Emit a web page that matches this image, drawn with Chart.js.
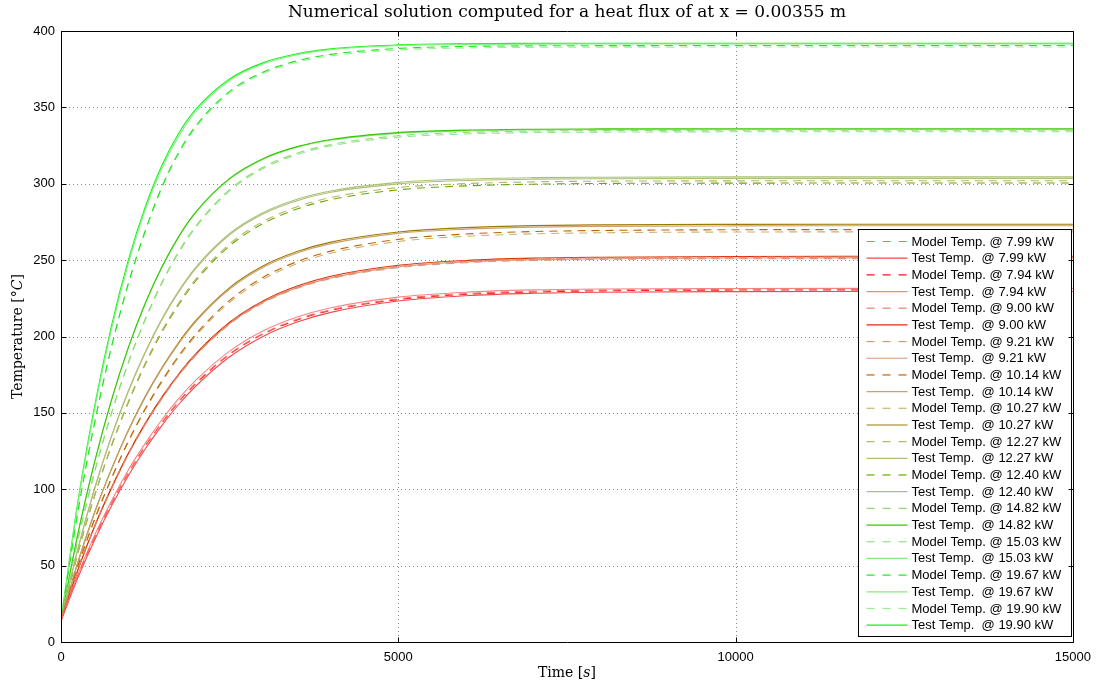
<!DOCTYPE html>
<html>
<head>
<meta charset="utf-8">
<script src="https://cdn.jsdelivr.net/npm/chart.js@4.4.0/dist/chart.umd.min.js"></script>
<style>
  html, body { margin: 0; padding: 0; background: #fff; }
</style>
</head>
<body>
<canvas id="heat" width="1099" height="684"></canvas>
<script>
// time samples [s]
var times = [0, 250, 500, 750, 1000, 1250, 1500, 1750, 2000, 2500, 3000, 3500, 4000, 5000, 6000, 7000, 8000, 10000, 12500, 15000];

// temperatures [degC]
var model_7_99  = [14, 43.1, 68.6, 90.9, 110.9, 128.4, 144, 157.8, 169.6, 188.7, 202.1, 211.3, 217.5, 224.7, 228.1, 229.6, 230.4, 230.9, 231, 231];
var test_7_99   = [14, 42, 67, 89.2, 109, 126.5, 142, 155.8, 167.6, 186.7, 200.2, 209.5, 215.8, 223.2, 226.7, 228.3, 229, 229.4, 229.5, 229.5];
var model_7_94  = [14, 43.1, 68.4, 90.7, 110.7, 128.2, 143.7, 157.5, 169.2, 188.3, 201.7, 210.8, 217.1, 224.2, 227.6, 229.1, 229.9, 230.4, 230.5, 230.5];
var test_7_94   = [14, 44, 70, 92.5, 112.8, 130.2, 145.8, 159.6, 171.4, 190.4, 203.7, 212.7, 218.8, 225.8, 229, 230.5, 231.1, 231.4, 231.5, 231.5];
var model_9_00  = [14, 47.1, 75.9, 100.9, 123.4, 143.1, 160.3, 175.5, 188.4, 208.9, 223, 232.5, 238.9, 246.1, 249.3, 250.8, 251.5, 251.9, 252, 252];
var test_9_00   = [14, 47.2, 76, 101.1, 123.7, 143.3, 160.6, 175.8, 188.8, 209.3, 223.4, 233, 239.4, 246.6, 249.8, 251.3, 251.9, 252.4, 252.5, 252.5];
var model_9_21  = [14, 47, 75.6, 100.5, 123, 142.5, 159.6, 174.8, 187.7, 208.1, 222.1, 231.6, 237.9, 245.1, 248.3, 249.8, 250.5, 250.9, 251, 251];
var test_9_21   = [14, 47, 75.8, 100.7, 123.2, 142.8, 159.9, 175.1, 188.1, 208.5, 222.6, 232, 238.4, 245.6, 248.8, 250.3, 250.9, 251.4, 251.5, 251.5];
var model_10_14 = [14, 49.6, 80.6, 107.5, 131.7, 152.8, 171.3, 187.7, 201.6, 223.7, 238.8, 249, 255.9, 263.6, 267.1, 268.7, 269.4, 269.9, 270, 270];
var test_10_14  = [14, 52, 84.8, 113.2, 138.4, 160.3, 179.3, 195.7, 209.8, 231.1, 245.4, 254.7, 260.8, 267.5, 270.3, 271.6, 272.1, 272.4, 272.5, 272.5];
var model_10_27 = [14, 49.4, 80.2, 106.9, 131, 152, 170.4, 186.7, 200.5, 222.4, 237.5, 247.7, 254.5, 262.2, 265.6, 267.2, 267.9, 268.4, 268.5, 268.5];
var test_10_27  = [14, 52.2, 85.1, 113.5, 138.8, 160.9, 179.9, 196.4, 210.5, 232, 246.3, 255.6, 261.8, 268.4, 271.3, 272.6, 273.1, 273.4, 273.5, 273.5];
var model_12_27 = [14, 58.4, 96.3, 129.1, 157.7, 182.7, 204.1, 222.2, 237.7, 260.6, 275.4, 284.9, 291, 297.5, 300.1, 301.2, 301.7, 301.9, 302, 302];
var test_12_27  = [14, 60.8, 100.5, 134.6, 164.1, 189.5, 211.3, 229.5, 244.6, 266.5, 280.3, 288.9, 294.4, 299.9, 302.1, 303, 303.3, 303.5, 303.5, 303.5];
var model_12_40 = [14, 58.1, 95.9, 128.5, 156.9, 181.8, 203.1, 221.1, 236.5, 259.3, 274, 283.5, 289.6, 296, 298.6, 299.7, 300.2, 300.4, 300.5, 300.5];
var test_12_40  = [14, 60.9, 100.8, 135.1, 164.6, 190.1, 212, 230.2, 245.4, 267.4, 281.2, 289.9, 295.3, 300.9, 303.1, 304, 304.3, 304.5, 304.5, 304.5];
var model_14_82 = [14, 67, 111.8, 150.2, 183.3, 211.6, 235.8, 256, 272.4, 296.2, 310.9, 320, 325.7, 331.4, 333.6, 334.5, 334.8, 335, 335, 335];
var test_14_82  = [14, 70.8, 118.3, 158.7, 193, 221.9, 246, 265.9, 281.6, 303.5, 316.6, 324.3, 329, 333.5, 335.1, 335.7, 335.9, 336, 336, 336];
var model_15_03 = [14, 66.8, 111.5, 149.8, 182.7, 211, 235.1, 255.2, 271.6, 295.3, 310, 319.1, 324.8, 330.4, 332.6, 333.5, 333.8, 334, 334, 334];
var test_15_03  = [14, 70.7, 118.1, 158.5, 192.7, 221.6, 245.6, 265.5, 281.2, 303, 316.1, 323.9, 328.5, 333, 334.6, 335.2, 335.4, 335.5, 335.5, 335.5];
var model_19_67 = [14, 85.3, 144, 193.6, 235, 269.4, 298.5, 321, 338, 360.5, 373.2, 380.5, 384.7, 388.6, 389.9, 390.3, 390.4, 390.5, 390.5, 390.5];
var test_19_67  = [14, 90.5, 152.8, 205, 248, 283, 310.5, 331.5, 347.3, 367.5, 378.5, 384.5, 387.8, 390.4, 391.2, 391.4, 391.5, 391.5, 391.5, 391.5];
var model_19_90 = [14, 85.1, 143.7, 193.1, 234.5, 268.7, 297.6, 320.1, 337, 359.5, 372.3, 379.6, 383.7, 387.6, 388.9, 389.3, 389.4, 389.5, 389.5, 389.5];
var test_19_90  = [14, 91.9, 155, 207.3, 250.3, 285, 312.5, 333.4, 348.8, 368.6, 379.3, 385.1, 388.3, 390.9, 391.7, 391.9, 392, 392, 392, 392];

var xTicks = [0, 5000, 10000, 15000];
var yTicks = [0, 50, 100, 150, 200, 250, 300, 350, 400];

var series = [
	['Model Temp. @ 7.99 kW',  model_7_99,  '#f87070', true],
	['Test Temp.  @ 7.99 kW',  test_7_99,   '#f84848', false],
	['Model Temp. @ 7.94 kW',  model_7_94,  '#ff1010', true],
	['Test Temp.  @ 7.94 kW',  test_7_94,   '#f88484', false],
	['Model Temp. @ 9.00 kW',  model_9_00,  '#e8806a', true],
	['Test Temp.  @ 9.00 kW',  test_9_00,   '#d83000', false],
	['Model Temp. @ 9.21 kW',  model_9_21,  '#e09474', true],
	['Test Temp.  @ 9.21 kW',  test_9_21,   '#d89a7a', false],
	['Model Temp. @ 10.14 kW', model_10_14, '#c06400', true],
	['Test Temp.  @ 10.14 kW', test_10_14,  '#c8a272', false],
	['Model Temp. @ 10.27 kW', model_10_27, '#c8b474', true],
	['Test Temp.  @ 10.27 kW', test_10_27,  '#9c7c00', false],
	['Model Temp. @ 12.27 kW', model_12_27, '#b8b468', true],
	['Test Temp.  @ 12.27 kW', test_12_27,  '#b4bc78', false],
	['Model Temp. @ 12.40 kW', model_12_40, '#68a800', true],
	['Test Temp.  @ 12.40 kW', test_12_40,  '#a4c478', false],
	['Model Temp. @ 14.82 kW', model_14_82, '#90dc70', true],
	['Test Temp.  @ 14.82 kW', test_14_82,  '#38c800', false],
	['Model Temp. @ 15.03 kW', model_15_03, '#90e490', true],
	['Test Temp.  @ 15.03 kW', test_15_03,  '#88e888', false],
	['Model Temp. @ 19.67 kW', model_19_67, '#18e818', true],
	['Test Temp.  @ 19.67 kW', test_19_67,  '#80f080', false],
	['Model Temp. @ 19.90 kW', model_19_90, '#98f098', true],
	['Test Temp.  @ 19.90 kW', test_19_90,  '#18f018', false]
];

var DASH = [8, 6];

var datasets = series.map(function (s) {
	return {
		label: s[0],
		data: times.map(function (t, i) { return { x: t, y: s[1][i] }; }),
		borderColor: s[2],
		borderWidth: 1.1,
		borderDash: s[3] ? DASH : [],
		pointRadius: 0,
		fill: false,
		cubicInterpolationMode: 'monotone'
	};
});

var SERIF = '"DejaVu Serif", "Liberation Serif", serif';
var SANS = '"Liberation Sans", Arial, sans-serif';

// draw a label made of pieces with different fonts, centred on (cx, cy)
function drawParts(ctx, parts, cx, cy) {
	var w = 0;
	parts.forEach(function (p) { ctx.font = p[1]; w += ctx.measureText(p[0]).width; });
	var x = cx - w / 2;
	ctx.textBaseline = 'middle';
	ctx.textAlign = 'left';
	parts.forEach(function (p) {
		ctx.font = p[1];
		ctx.fillText(p[0], x, cy);
		x += ctx.measureText(p[0]).width;
	});
}

var matlabLook = {
	id: 'matlabLook',
	beforeDatasetsDraw: function (chart) {
		var ctx = chart.ctx, a = chart.chartArea, xs = chart.scales.x, ys = chart.scales.y;
		ctx.save();
		ctx.strokeStyle = '#8a8a8a';
		ctx.lineWidth = 1;
		ctx.setLineDash([1, 3]);
		ctx.beginPath();
		yTicks.forEach(function (v) {
			if (v <= ys.min || v >= ys.max) return;
			var y = Math.round(ys.getPixelForValue(v)) + 0.5;
			ctx.moveTo(a.left, y); ctx.lineTo(a.right, y);
		});
		xTicks.forEach(function (v) {
			if (v <= xs.min || v >= xs.max) return;
			var x = Math.round(xs.getPixelForValue(v)) + 0.5;
			ctx.moveTo(x, a.top); ctx.lineTo(x, a.bottom);
		});
		ctx.stroke();
		ctx.restore();
	},
	afterDraw: function (chart) {
		var ctx = chart.ctx, a = chart.chartArea, xs = chart.scales.x, ys = chart.scales.y;
		var L = Math.round(a.left) + 0.5, R = Math.round(a.right) + 0.5;
		var T = Math.round(a.top) + 0.5, B = Math.round(a.bottom) + 0.5;
		ctx.save();

		// legend box
		var box = { left: 858.5, top: 229.5, right: R - 2, bottom: B - 6 };
		ctx.fillStyle = '#fff';
		ctx.fillRect(box.left, box.top, box.right - box.left, box.bottom - box.top);
		ctx.strokeStyle = '#000';
		ctx.lineWidth = 1;
		ctx.setLineDash([]);
		ctx.strokeRect(box.left, box.top, box.right - box.left, box.bottom - box.top);
		var rowH = 16.68;
		ctx.font = '13px ' + SANS;
		ctx.textBaseline = 'middle';
		ctx.textAlign = 'left';
		chart.data.datasets.forEach(function (ds, i) {
			var y = box.top + 12 + i * rowH;
			ctx.strokeStyle = ds.borderColor;
			ctx.lineWidth = 1.2;
			ctx.setLineDash(ds.borderDash.length ? [8, 8] : []);
			ctx.beginPath();
			ctx.moveTo(box.left + 8, y);
			ctx.lineTo(box.left + 49, y);
			ctx.stroke();
			ctx.fillStyle = '#000';
			ctx.fillText(ds.label, box.left + 53, y + 0.5);
		});

		// frame and inward ticks
		ctx.setLineDash([]);
		ctx.strokeStyle = '#000';
		ctx.lineWidth = 1;
		ctx.beginPath();
		ctx.rect(L, T, R - L, B - T);
		yTicks.forEach(function (v) {
			var y = Math.round(ys.getPixelForValue(v)) + 0.5;
			ctx.moveTo(L, y); ctx.lineTo(L + 5, y);
			ctx.moveTo(R, y); ctx.lineTo(R - 5, y);
		});
		xTicks.forEach(function (v) {
			var x = Math.round(xs.getPixelForValue(v)) + 0.5;
			ctx.moveTo(x, B); ctx.lineTo(x, B - 5);
			ctx.moveTo(x, T); ctx.lineTo(x, T + 5);
		});
		ctx.stroke();

		// title and axis labels
		ctx.fillStyle = '#000';
		var cx = (a.left + a.right) / 2;
		drawParts(ctx, [['Numerical solution computed for a heat flux of at x = 0.00355 m', '17px ' + SERIF]], cx, 13);
		drawParts(ctx, [['Time [', '14px ' + SERIF], ['s', 'italic 14px ' + SERIF], [']', '14px ' + SERIF]], cx, 673);
		ctx.translate(18, (a.top + a.bottom) / 2);
		ctx.rotate(-Math.PI / 2);
		drawParts(ctx, [['Temperature [', '14px ' + SERIF], ['\u00B0C', 'italic 14px ' + SERIF], [']', '14px ' + SERIF]], 0, 0);
		ctx.restore();
	}
};

var ctx = document.getElementById('heat').getContext('2d');
var chart = new Chart(ctx, {
	type: 'line',
	data: { datasets: datasets },
	options: {
		responsive: false,
		animation: false,
		layout: { padding: { top: 31, right: 21, left: 0, bottom: 0 } },
		plugins: {
			legend: { display: false },
			title: { display: false },
			tooltip: { enabled: false }
		},
		scales: {
			x: {
				type: 'linear',
				min: 0,
				max: 15000,
				afterFit: function (s) { s.height = 42; },
				afterBuildTicks: function (s) { s.ticks = xTicks.map(function (v) { return { value: v }; }); },
				grid: { display: false, drawTicks: false },
				border: { display: false },
				ticks: {
					padding: 8,
					color: '#000',
					font: { family: SANS, size: 13 },
					maxRotation: 0,
					callback: function (v) { return String(v); }
				}
			},
			y: {
				min: 0,
				max: 400,
				afterFit: function (s) { s.width = 61; },
				afterBuildTicks: function (s) { s.ticks = yTicks.map(function (v) { return { value: v }; }); },
				grid: { display: false, drawTicks: false },
				border: { display: false },
				ticks: {
					padding: 6,
					color: '#000',
					font: { family: SANS, size: 13 },
					callback: function (v) { return String(v); }
				}
			}
		}
	},
	plugins: [matlabLook]
});
</script>
</body>
</html>
